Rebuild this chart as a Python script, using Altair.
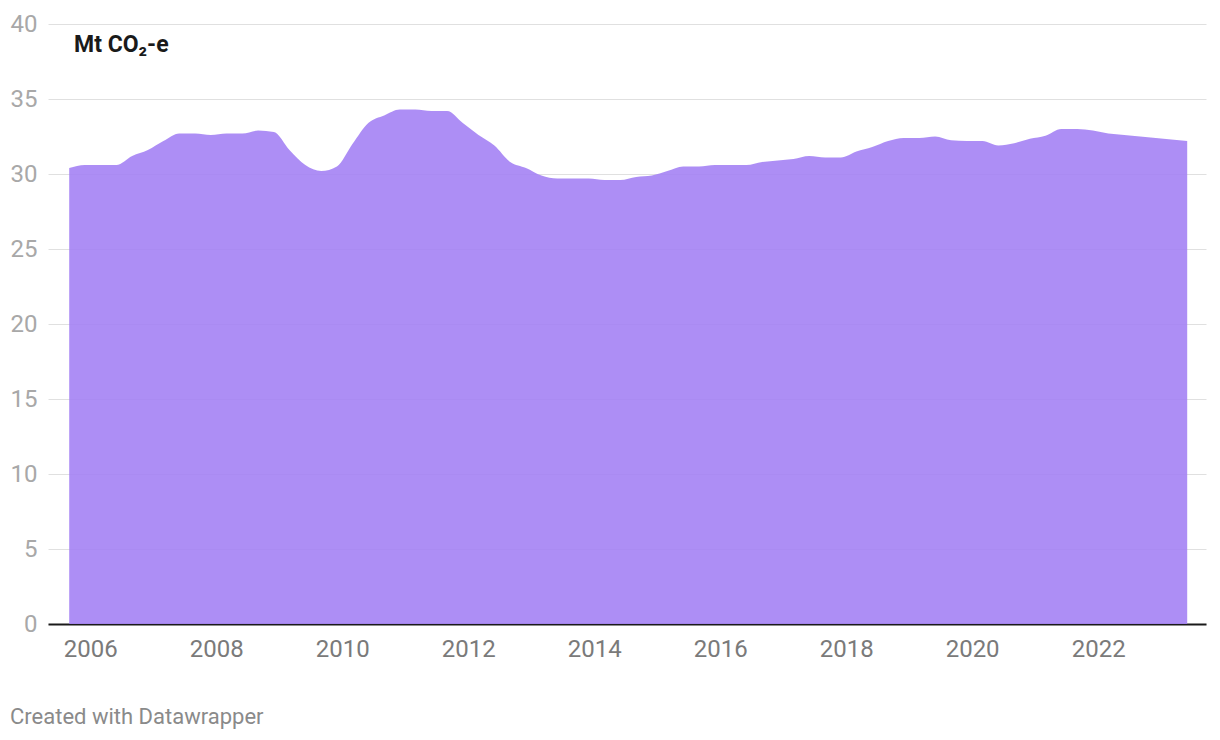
import altair as alt
import pandas as pd

# Quarterly observations, Sep 2005 .. Jun 2023
start_date = "2005-09-01"
values = [
    30.4, 30.6, 30.6, 30.6, 31.2, 31.6, 32.2, 32.7, 32.7, 32.6, 32.7, 32.7,
    32.9, 32.8, 31.6, 30.6, 30.2, 30.5, 32.0, 33.4, 33.9, 34.3, 34.3, 34.2,
    34.2, 33.4, 32.6, 31.9, 30.8, 30.4, 29.9, 29.7, 29.7, 29.7, 29.6, 29.6,
    29.8, 29.9, 30.2, 30.5, 30.5, 30.6, 30.6, 30.6, 30.8, 30.9, 31.0, 31.2,
    31.1, 31.1, 31.5, 31.8, 32.2, 32.4, 32.4, 32.5, 32.25, 32.2, 32.2, 31.9,
    32.05, 32.35, 32.55, 33.0, 33.0, 32.9, 32.7, 32.6, 32.5, 32.4, 32.3, 32.2,
]
dates = [d.strftime("%Y-%m-%d") for d in pd.date_range(start_date, periods=len(values), freq="3MS")]
tick_years = [2006, 2008, 2010, 2012, 2014, 2016, 2018, 2020, 2022]
y_ticks = [0, 5, 10, 15, 20, 25, 30, 35, 40]
unit_label = "Mt CO₂-e"
footer = "Created with Datawrapper"

df = pd.DataFrame({"date": dates, "value": values})

FONT = "Roboto"

x_enc = alt.X(
    "date:T",
    scale=alt.Scale(domain=[alt.DateTime(year=2005, month=5, date=1),
                            alt.DateTime(year=2023, month=9, date=18)]),
    axis=alt.Axis(
        values=[alt.DateTime(year=y, month=1, date=1) for y in tick_years],
        format="%Y", title=None, grid=False, ticks=False,
        domain=True, domainColor="#1a1a1a", domainWidth=2,
        labelFont=FONT, labelFontSize=24, labelColor="#7a7a7a",
        labelPadding=13, labelFlush=False,
    ),
)
y_enc = alt.Y(
    "value:Q",
    scale=alt.Scale(domain=[0, 40], nice=False, zero=True),
    axis=alt.Axis(
        values=y_ticks, title=None, ticks=False, domain=False,
        grid=True, gridColor="#e0e0e0", gridWidth=1,
        labelFont=FONT, labelFontSize=24, labelColor="#a8a8a8",
        labelPadding=11,
    ),
)

area = alt.Chart(df).mark_area(
    color="#a482f4", opacity=0.9, interpolate="monotone"
).encode(x=x_enc, y=y_enc)

title = alt.Chart(pd.DataFrame({"t": [unit_label]})).mark_text(
    font=FONT, fontSize=23, fontWeight="bold", color="#1a1a1a",
    align="left", baseline="alphabetic",
).encode(x=alt.value(26), y=alt.value(28), text="t:N")

foot = alt.Chart(pd.DataFrame({"t": [footer]})).mark_text(
    font=FONT, fontSize=22, color="#8a8a8a",
    align="left", baseline="middle",
).encode(x=alt.value(-38), y=alt.value(693), text="t:N")

chart = alt.layer(area, title, foot).properties(
    width=1158, height=600,
    autosize=alt.AutoSizeParams(type="none"),
    padding={"left": 48, "top": 24, "right": 14, "bottom": 116},
).configure_view(stroke=None)

chart.save("out.html", embed_options={"renderer": "svg", "actions": False})
